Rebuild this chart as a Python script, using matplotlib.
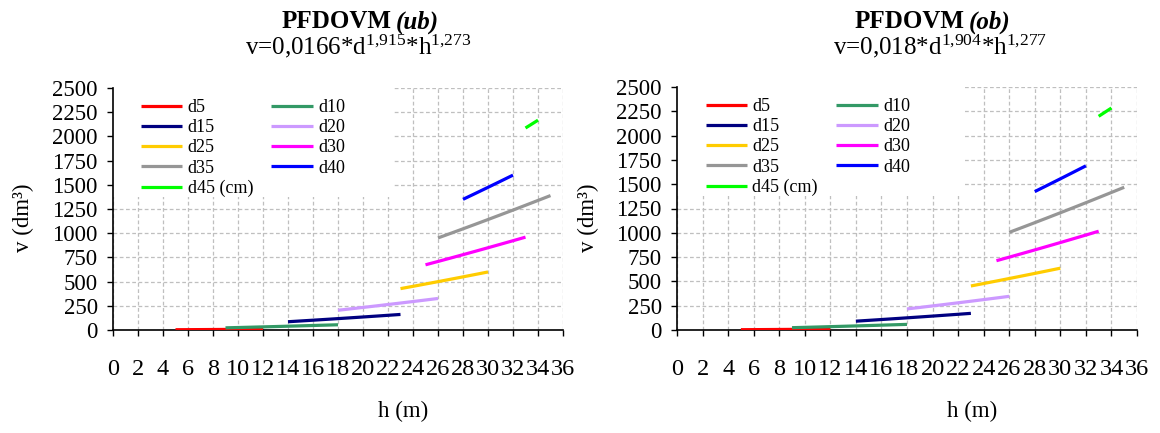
import matplotlib
matplotlib.use('Agg')
import matplotlib.pyplot as plt
from matplotlib.patches import Rectangle

plt.rcParams['font.family'] = ['Liberation Serif', 'DejaVu Serif']
plt.rcParams['mathtext.fontset'] = 'custom'
plt.rcParams['mathtext.rm'] = 'Liberation Serif'
plt.rcParams['mathtext.it'] = 'Liberation Serif:italic'
plt.rcParams['mathtext.bf'] = 'Liberation Serif:bold'

# diameter classes
labels = ['d5', 'd10', 'd15', 'd20', 'd25', 'd30', 'd35', 'd40', 'd45 (cm)']
colors = ['#FF0000', '#339966', '#000080', '#CC99FF', '#FFCC00',
          '#FF00FF', '#969696', '#0000FF', '#00FF00']

# heights (m) per diameter class
h_d5 = [5, 6, 7, 8, 9, 10, 11, 12]
h_d10 = [9, 10, 11, 12, 13, 14, 15, 16, 17, 18]
h_d15 = [14, 15, 16, 17, 18, 19, 20, 21, 22, 23]
h_d20 = [18, 19, 20, 21, 22, 23, 24, 25, 26]
h_d25 = [23, 24, 25, 26, 27, 28, 29, 30]
h_d30 = [25, 26, 27, 28, 29, 30, 31, 32, 33]
h_d35 = [26, 27, 28, 29, 30, 31, 32, 33, 34, 35]
h_d40 = [28, 29, 30, 31, 32]
h_d45 = [33, 34]
heights = [h_d5, h_d10, h_d15, h_d20, h_d25, h_d30, h_d35, h_d40, h_d45]

# volumes under bark (dm3)
v_ub = [
    [2.8, 3.5, 4.3, 5.1, 5.9, 6.8, 7.7, 8.6],
    [22.4, 25.6, 28.9, 32.3, 35.7, 39.3, 42.9, 46.6, 50.3, 54.1],
    [85.4, 93.3, 101.2, 109.4, 117.6, 126.0, 134.5, 143.1, 151.8, 160.7],
    [203.9, 218.4, 233.2, 248.1, 263.3, 278.6, 294.1, 309.8, 325.6],
    [427.4, 451.2, 475.3, 499.5, 524.1, 549.0, 574.1, 599.5],
    [673.6, 708.0, 742.9, 778.1, 813.7, 849.7, 885.9, 922.4, 959.3],
    [951.0, 997.8, 1045.2, 1093.0, 1141.2, 1189.9, 1238.9, 1288.5, 1338.4, 1388.6],
    [1349.8, 1411.5, 1473.8, 1536.7, 1600.0],
    [2086.7, 2167.5],
]

# volumes over bark (dm3)
v_ob = [
    [3.0, 3.8, 4.6, 5.5, 6.4, 7.3, 8.2, 9.2],
    [23.9, 27.3, 30.8, 34.5, 38.2, 42.0, 45.8, 49.8, 53.8, 57.8],
    [90.8, 99.2, 107.7, 116.4, 125.2, 134.1, 143.2, 152.4, 161.7, 171.2],
    [216.6, 232.0, 247.7, 263.6, 279.8, 296.1, 312.7, 329.4, 346.3],
    [452.9, 478.2, 503.8, 529.7, 555.8, 582.2, 608.9, 635.9],
    [712.9, 749.4, 786.4, 823.8, 861.5, 899.7, 938.2, 976.9, 1016.2],
    [1004.6, 1054.1, 1104.3, 1154.9, 1206.0, 1257.7, 1309.5, 1362.2, 1415.2, 1468.4],
    [1424.2, 1489.5, 1555.4, 1622.0, 1689.0],
    [2198.5, 2283.9],
]

W, H = 1160, 433


def draw_panel(ax, volumes):
    lines = []
    for h, v, lab, c in zip(heights, volumes, labels, colors):
        ln, = ax.plot(h, v, color=c, linewidth=2.3, label=lab, zorder=3,
                      solid_capstyle='butt')
        lines.append(ln)
    ax.set_xlim(0, 36)
    ax.set_ylim(0, 2500)
    ax.set_xticks(range(0, 37, 2))
    ax.set_yticks(range(0, 2501, 250))
    ax.set_axisbelow(True)
    ax.grid(True, color='#BFBFBF', linestyle=(0, (3, 2)), linewidth=0.9)
    for s in ['top', 'right']:
        ax.spines[s].set_visible(False)
    for s in ['left', 'bottom']:
        ax.spines[s].set_linewidth(1.2)
    ax.tick_params(axis='both', direction='out', length=4, width=1.0)
    ax.tick_params(axis='x', pad=17, labelsize=17.5)
    ax.tick_params(axis='y', pad=7, labelsize=16.5)
    # white legend area over the grid
    ax.add_patch(Rectangle((0, 0.55), 0.622, 0.45, transform=ax.transAxes,
                           facecolor='white', edgecolor='none', zorder=1))
    order = [0, 2, 4, 6, 8, 1, 3, 5, 7]
    ax.legend([lines[i] for i in order], [labels[i] for i in order], ncol=2,
              loc='upper left', bbox_to_anchor=(0.062, 0.955), frameon=False,
              borderpad=0, borderaxespad=0, fontsize=13, handlelength=2.3,
              handletextpad=0.3, columnspacing=1.0, labelspacing=0.18)


fig = plt.figure(figsize=(W / 100, H / 100), dpi=100)
ax1 = fig.add_axes([113 / W, 1 - 330 / H, 450 / W, 242 / H])
ax2 = fig.add_axes([677 / W, 1 - 330 / H, 460 / W, 243 / H])
draw_panel(ax1, v_ub)
draw_panel(ax2, v_ob)

# titles
for split, tag in [(392, '(ub)'), (965, '(ob)')]:
    fig.text(split / W, 1 - 22 / H, 'PFDOVM', fontsize=18, fontweight='bold',
             ha='right', va='center')
    fig.text((split + 4) / W, 1 - 22 / H, tag, fontsize=18, fontweight='bold',
             style='italic', ha='left', va='center')
fig.text(358 / W, 1 - 46 / H, r'v=0,0166*d$^{\mathrm{1{,}915}}$*h$^{\mathrm{1{,}273}}$',
         fontsize=18, ha='center', va='center')
fig.text(940 / W, 1 - 46 / H, r'v=0,018*d$^{\mathrm{1{,}904}}$*h$^{\mathrm{1{,}277}}$',
         fontsize=18, ha='center', va='center')

# axis labels
for x in [23, 588]:
    fig.text(x / W, 1 - 218 / H, 'v (dm³)', fontsize=16.5, rotation=90,
             ha='center', va='center')
for x in [403, 972]:
    fig.text(x / W, 1 - 411 / H, 'h (m)', fontsize=16.5, ha='center', va='center')

fig.savefig('out.png', dpi=100)
